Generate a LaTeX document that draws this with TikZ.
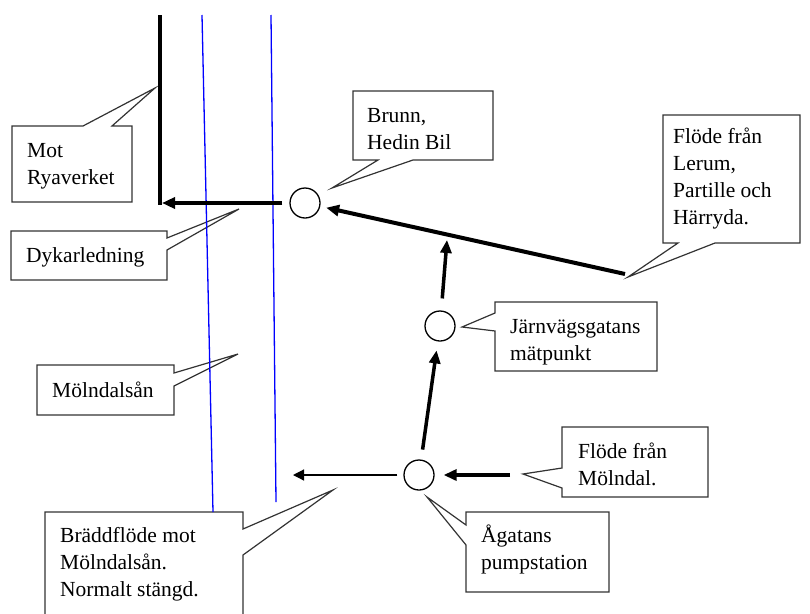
\documentclass[tikz,border=0pt]{standalone}
\usepackage{fontspec}
\setmainfont{Liberation Serif}
\usetikzlibrary{arrows.meta}
\begin{document}
\begin{tikzpicture}[x=1pt,y=-1pt,
  callout/.style={draw=black!80, line width=1.2pt, fill=white, line join=miter},
  lbl/.style={anchor=north west, inner sep=0pt, align=left, font=\fontsize{21.5}{27}\selectfont},
  circ/.style={circle, draw, line width=1.3pt, minimum size=30pt, inner sep=0pt},
  flow/.style={line width=4pt, -{Triangle[length=13pt,width=11pt]}},
  thinflow/.style={line width=1.2pt, -{Triangle[length=11pt,width=11pt]}},
  river/.style={draw=blue, line width=1.3pt}]
\useasboundingbox (0,0) rectangle (810,613);

% callouts
\draw[callout] (12,126) -- (83,126) -- (155,88) -- (112,126) -- (132,126) -- (132,202) -- (12,202) -- cycle;
\draw[callout] (11,231) -- (167,231) -- (167,238) -- (239,209) -- (167,250) -- (167,280) -- (11,280) -- cycle;
\draw[callout] (353,91) -- (493,91) -- (493,160) -- (413,160) -- (332,188) -- (378,160) -- (353,160) -- cycle;
\draw[callout] (663,115) -- (800,115) -- (800,243) -- (715,243) -- (628,277) -- (678,243) -- (663,243) -- cycle;
\draw[callout] (495,302) -- (657,302) -- (657,371) -- (495,371) -- (495,331) -- (462,327) -- (495,313) -- cycle;
\draw[callout] (562,427) -- (708,427) -- (708,497) -- (562,497) -- (562,488) -- (523,474) -- (562,468) -- cycle;
\draw[callout] (466,512) -- (609,512) -- (609,592) -- (466,592) -- (466,545) -- (427,497) -- (466,525) -- cycle;
\draw[callout] (37,365) -- (174,365) -- (174,373) -- (238,354) -- (174,386) -- (174,415) -- (37,415) -- cycle;
\fill[white] (45,512) -- (243,512) -- (243,529) -- (333,490) -- (243,555) -- (243,614) -- (45,614) -- cycle;
\draw[draw=black!80, line width=1.2pt, line join=miter] (45,614) -- (45,512) -- (243,512) -- (243,529) -- (333,490) -- (243,555) -- (243,614);

% texts
\node[lbl] (tmot) at (27,138) {\strut Mot\\Ryaverket};
\node[lbl] (tdyk) at (26,243) {\strut Dykarledning};
\node[lbl] (tbrunn) at (367,103) {\strut Brunn,\\Hedin Bil};
\node[lbl] (tlerum) at (673,124) {\strut Flöde från\\Lerum,\\Partille och\\Härryda.};
\node[lbl] (tjv) at (510,314) {\strut Järnvägsgatans\\mätpunkt};
\node[lbl] (tmoln) at (578,439) {\strut Flöde från\\Mölndal.};
\node[lbl] (tag) at (481,523) {\strut Ågatans\\pumpstation};
\node[lbl] (tan) at (52,378) {\strut Mölndalsån};
\node[lbl] (tbradd) at (60,523) {\strut Bräddflöde mot\\Mölndalsån.\\Normalt stängd.};

% river
\coordinate (r1a) at (202,15);
\coordinate (r1b) at (213,512);
\coordinate (r2a) at (271,15);
\coordinate (r2b) at (276,502);
\draw[river] (r1a) -- (r1b);
\draw[river] (r2a) -- (r2b);

% wells
\node[circ] (brunn) at (305,203) {};
\node[circ] (jv) at (440,326) {};
\node[circ] (ag) at (419,475) {};

% pipes
\coordinate (ryatop) at (160,15);
\coordinate (corner) at (160,205);
\coordinate (dyktip) at (162,203);
\coordinate (lerumstart) at (625,274);
\coordinate (join) at (447,240);
\coordinate (molnstart) at (510,475);
\coordinate (braddtip) at (293,475);
\draw[line width=4.5pt] (ryatop) -- (corner);
\draw[flow, shorten <=7pt] (brunn) -- (dyktip);
\draw[flow, shorten >=6pt] (lerumstart) -- (brunn);
\draw[flow, line width=3.5pt, shorten <=10pt, shorten >=9pt] (ag) -- (jv);
\draw[flow, line width=3.5pt, shorten <=12pt] (jv) -- (join);
\draw[flow, shorten >=9pt] (molnstart) -- (ag);
\draw[thinflow, shorten <=6pt] (ag) -- (braddtip);
\end{tikzpicture}
\end{document}
